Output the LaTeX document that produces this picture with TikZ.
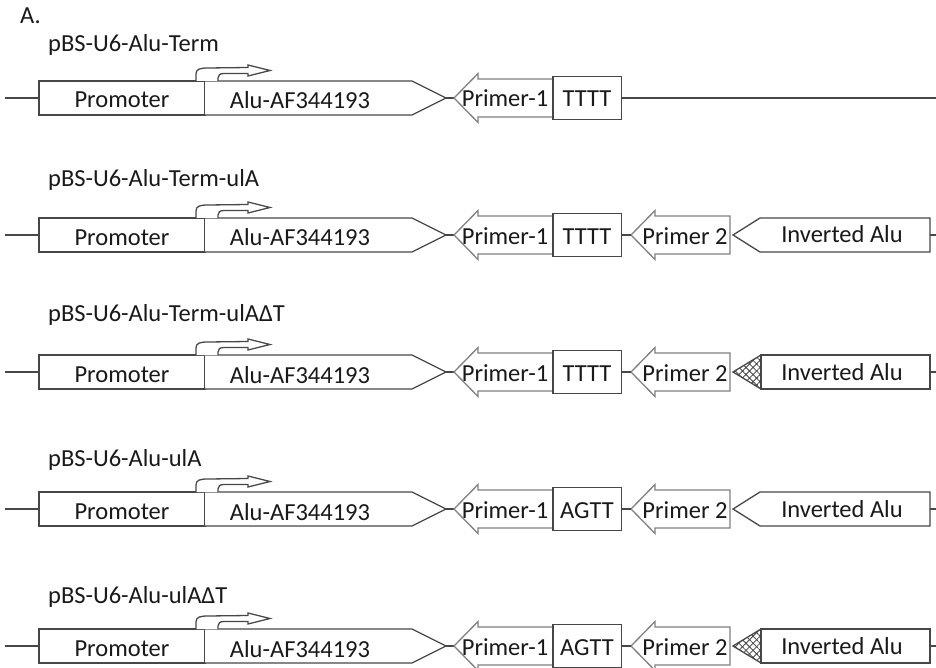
\documentclass[tikz,border=0pt]{standalone}
\usepackage{fontspec}
\setmainfont{Carlito}
\usetikzlibrary{patterns.meta}
\tikzset{
  ln/.style={draw=black!72, line width=1.3pt},
  pr/.style={draw=black!50, line width=1.3pt, fill=white, line join=miter},
  bx/.style={draw=black!72, line width=1.3pt, fill=white},
  txt/.style={font=\fontsize{24.5}{28}\selectfont, inner sep=0pt, anchor=base, text=black!90},
  lbl/.style={txt, anchor=base west},
  pics/cassette/.style={code={
    \coordinate (-l) at (5,0);
    \coordinate (-pl) at (39,0);
    \draw[ln] (-l) -- (-pl);
    \draw[bx] (39,-17) rectangle (205,17);
    \draw[bx] (205,-17) -- (412,-17) -- (446,0) -- (412,17) -- (205,17);
    \draw[bx, line join=miter] (196,-17) -- (196,-24) .. controls (196,-29) and (200,-30) .. (208,-30)
      -- (248,-30.5) -- (248,-33) -- (270,-27.5) -- (248,-22) -- (248,-24.5) -- (224,-24.5)
      .. controls (220,-24.5) and (218,-23) .. (218,-20) -- (218,-17);
    \coordinate (-at) at (446,0);
    \coordinate (-p1) at (454,0);
    \draw[ln] (-at) -- (-p1);
    \draw[pr] (553,-19) -- (478,-19) -- (478,-24.5) -- (454,0) -- (478,24.5) -- (478,19) -- (553,19);
    \draw[bx] (553,-21.5) rectangle (621.5,21.5);
    \coordinate (-sr) at (621.5,0);
    \node[txt] (-prom) at (122,10) {Promoter};
    \node[txt] (-alu) at (300,11) {Alu-AF344193};
    \node[txt] (-prim1) at (505,9) {Primer-1};
  }},
  pics/primtwo/.style={code={
    \coordinate (-p2) at (631,0);
    \draw[pr] (730,-19) -- (655,-19) -- (655,-24.5) -- (631,0) -- (655,24.5) -- (655,19) -- (730,19) -- cycle;
    \node[txt] (-prim2) at (685,9) {Primer 2};
    \coordinate (-ir) at (930,0);
    \coordinate (-end) at (936,0);
    \draw[ln] (-ir) -- (-end);
  }},
  pics/invpent/.style={code={
    \draw[bx] (733,0) -- (760,-17) -- (930,-17) -- (930,17) -- (760,17) -- cycle;
    \node[txt] (-inv) at (842,8) {Inverted Alu};
  }},
  pics/invhatch/.style={code={
    \fill[pattern={Lines[angle=45,distance=5pt,line width=0.8pt]}, pattern color=black!75] (733,0) -- (761,-17) -- (761,17) -- cycle;
    \fill[pattern={Lines[angle=-45,distance=5pt,line width=0.8pt]}, pattern color=black!75] (733,0) -- (761,-17) -- (761,17) -- cycle;
    \draw[ln, line join=miter] (733,0) -- (761,-17) -- (761,17) -- cycle;
    \draw[bx] (761,-17) rectangle (930,17);
    \node[txt] (-inv) at (842,8) {Inverted Alu};
  }},
}
\begin{document}
\begin{tikzpicture}[x=1pt, y=-1pt]
\useasboundingbox (0,0) rectangle (936,668);
\node[lbl] (A) at (20,24) {A.};

% Row 1
\node[lbl] (l1) at (48,52) {pBS-U6-Alu-Term};
\pic (r1) at (0,98) {cassette};
\node[txt] (r1seq) at (587,107) {TTTT};
\coordinate (r1end) at (936,98);
\draw[ln] (r1-sr) -- (r1end);

% Row 2
\node[lbl] (l2) at (48,187) {pBS-U6-Alu-Term-ulA};
\pic (r2) at (0,235) {cassette};
\node[txt] (r2seq) at (587,244) {TTTT};
\pic (r2b) at (0,235) {primtwo};
\pic (r2c) at (0,235) {invpent};
\draw[ln] (r2-sr) -- (r2b-p2);

% Row 3
\node[lbl] (l3) at (48,321) {pBS-U6-Alu-Term-ulAΔT};
\pic (r3) at (0,372) {cassette};
\node[txt] (r3seq) at (587,381) {TTTT};
\pic (r3b) at (0,372) {primtwo};
\pic (r3c) at (0,372) {invhatch};
\draw[ln] (r3-sr) -- (r3b-p2);

% Row 4
\node[lbl] (l4) at (48,466) {pBS-U6-Alu-ulA};
\pic (r4) at (0,509) {cassette};
\node[txt] (r4seq) at (587,518) {AGTT};
\pic (r4b) at (0,509) {primtwo};
\pic (r4c) at (0,509) {invpent};
\draw[ln] (r4-sr) -- (r4b-p2);

% Row 5
\node[lbl] (l5) at (48,603) {pBS-U6-Alu-ulAΔT};
\pic (r5) at (0,646) {cassette};
\node[txt] (r5seq) at (587,655) {AGTT};
\pic (r5b) at (0,646) {primtwo};
\pic (r5c) at (0,646) {invhatch};
\draw[ln] (r5-sr) -- (r5b-p2);
\end{tikzpicture}
\end{document}
